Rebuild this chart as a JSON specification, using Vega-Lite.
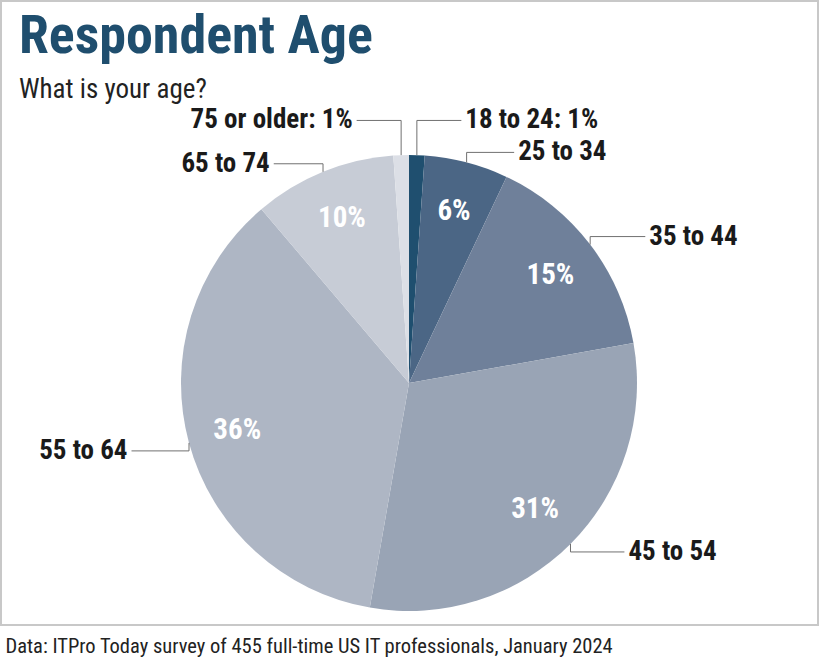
{
  "$schema": "https://vega.github.io/schema/vega-lite/v6.json",
  "width": 817,
  "height": 624,
  "padding": {"left": 1, "top": 1, "right": 1, "bottom": 0},
  "autosize": {"type": "pad"},
  "title": {
    "text": "Respondent Age",
    "subtitle": "What is your age?",
    "anchor": "start",
    "frame": "group",
    "offset": -102,
    "dx": 18,
    "font": "Roboto Condensed, DejaVu Sans Condensed, sans-serif",
    "fontSize": 54,
    "fontWeight": "bold",
    "color": "#1f4e6e",
    "subtitleFont": "Roboto Condensed, DejaVu Sans Condensed, sans-serif",
    "subtitleFontSize": 27,
    "subtitleColor": "#222222",
    "subtitlePadding": 13
  },
  "data": {
    "values": [
      {"age": "18 to 24", "respondents": 5, "pct": "1%", "label": "18 to 24: 1%"},
      {"age": "25 to 34", "respondents": 27, "pct": "6%", "label": "25 to 34"},
      {"age": "35 to 44", "respondents": 69, "pct": "15%", "label": "35 to 44"},
      {"age": "45 to 54", "respondents": 139, "pct": "31%", "label": "45 to 54"},
      {"age": "55 to 64", "respondents": 164, "pct": "36%", "label": "55 to 64"},
      {"age": "65 to 74", "respondents": 46, "pct": "10%", "label": "65 to 74"},
      {"age": "75 or older", "respondents": 5, "pct": "1%", "label": "75 or older: 1%"}
    ]
  },
  "transform": [
    {"window": [{"op": "sum", "field": "respondents", "as": "cum"}], "sort": [{"field": "age"}], "frame": [null, 0]},
    {"joinaggregate": [{"op": "sum", "field": "respondents", "as": "total"}]},
    {"calculate": "2 * PI * (datum.cum - datum.respondents / 2) / datum.total", "as": "a"},
    {"calculate": "228 * sin(datum.a)", "as": "x0"},
    {"calculate": "228 * cos(datum.a)", "as": "y0"},
    {"calculate": "datum.y0 + (datum.y0 >= 0 ? 1 : -1) * (8 + 28 * pow(abs(cos(datum.a)), 80))", "as": "y1"},
    {"calculate": "datum.x0 + (datum.x0 >= 0 ? 1 : -1) * (44 + 14 * abs(sin(datum.a)))", "as": "x2"},
    {"calculate": "datum.x2 + (datum.x0 >= 0 ? 4 : -4)", "as": "lx"}
  ],
  "layer": [
    {
      "mark": {"type": "arc", "outerRadius": 228},
      "encoding": {
        "theta": {"field": "respondents", "type": "quantitative", "stack": true},
        "order": {"field": "age", "sort": "ascending"},
        "color": {
          "field": "age",
          "type": "nominal",
          "scale": {
            "domain": ["18 to 24", "25 to 34", "35 to 44", "45 to 54", "55 to 64", "65 to 74", "75 or older"],
            "range": ["#1f4f6f", "#4b6685", "#6f809a", "#99a4b5", "#aeb6c4", "#c7ccd6", "#dcdfe6"]
          },
          "legend": null
        },
        "x": {
          "datum": 0,
          "type": "quantitative",
          "scale": {"domain": [-408, 409], "nice": false, "zero": false}
        },
        "y": {
          "datum": 0,
          "type": "quantitative",
          "scale": {"domain": [-242, 382], "nice": false, "zero": false},
          "axis": null
        }
      }
    },
    {
      "mark": {
        "type": "text",
        "radius": 178,
        "font": "Roboto Condensed, DejaVu Sans Condensed, sans-serif",
        "fontSize": 29,
        "fontWeight": "bold",
        "color": "white",
        "baseline": "middle"
      },
      "encoding": {
        "theta": {"field": "respondents", "type": "quantitative", "stack": true},
        "order": {"field": "age", "sort": "ascending"},
        "text": {"condition": {"test": "datum.respondents < 10", "value": ""}, "field": "pct"},
        "x": {"datum": 0, "type": "quantitative"},
        "y": {"datum": 0, "type": "quantitative", "axis": null}
      }
    },
    {
      "mark": {"type": "rule", "color": "#707070", "strokeWidth": 1},
      "encoding": {
        "x": {
          "field": "x0",
          "type": "quantitative",
          "axis": {
            "title": "Data: ITPro Today survey of 455 full-time US IT professionals, January 2024",
            "labels": false,
            "ticks": false,
            "domain": false,
            "grid": false,
            "titleAnchor": "start",
            "titleAlign": "left",
            "titleX": 4,
            "titleFont": "Roboto Condensed, DejaVu Sans Condensed, sans-serif",
            "titleFontSize": 20.5,
            "titleFontWeight": "normal",
            "titleColor": "#222222",
            "titlePadding": 11
          }
        },
        "y": {"field": "y0", "type": "quantitative", "axis": null},
        "y2": {"field": "y1"}
      }
    },
    {
      "mark": {"type": "rule", "color": "#707070", "strokeWidth": 1},
      "encoding": {
        "x": {"field": "x0", "type": "quantitative"},
        "x2": {"field": "x2"},
        "y": {"field": "y1", "type": "quantitative", "axis": null}
      }
    },
    {
      "transform": [{"filter": "datum.x0 >= 0"}],
      "mark": {
        "type": "text",
        "align": "left",
        "baseline": "middle",
        "font": "Roboto Condensed, DejaVu Sans Condensed, sans-serif",
        "fontSize": 27,
        "fontWeight": "bold",
        "color": "#1a1a1a"
      },
      "encoding": {
        "x": {"field": "lx", "type": "quantitative"},
        "y": {"field": "y1", "type": "quantitative", "axis": null},
        "text": {"field": "label"}
      }
    },
    {
      "transform": [{"filter": "datum.x0 < 0"}],
      "mark": {
        "type": "text",
        "align": "right",
        "baseline": "middle",
        "font": "Roboto Condensed, DejaVu Sans Condensed, sans-serif",
        "fontSize": 27,
        "fontWeight": "bold",
        "color": "#1a1a1a"
      },
      "encoding": {
        "x": {"field": "lx", "type": "quantitative"},
        "y": {"field": "y1", "type": "quantitative", "axis": null},
        "text": {"field": "label"}
      }
    }
  ],
  "config": {
    "view": {"stroke": "#c8c8c8", "strokeWidth": 2},
    "background": "white"
  }
}
